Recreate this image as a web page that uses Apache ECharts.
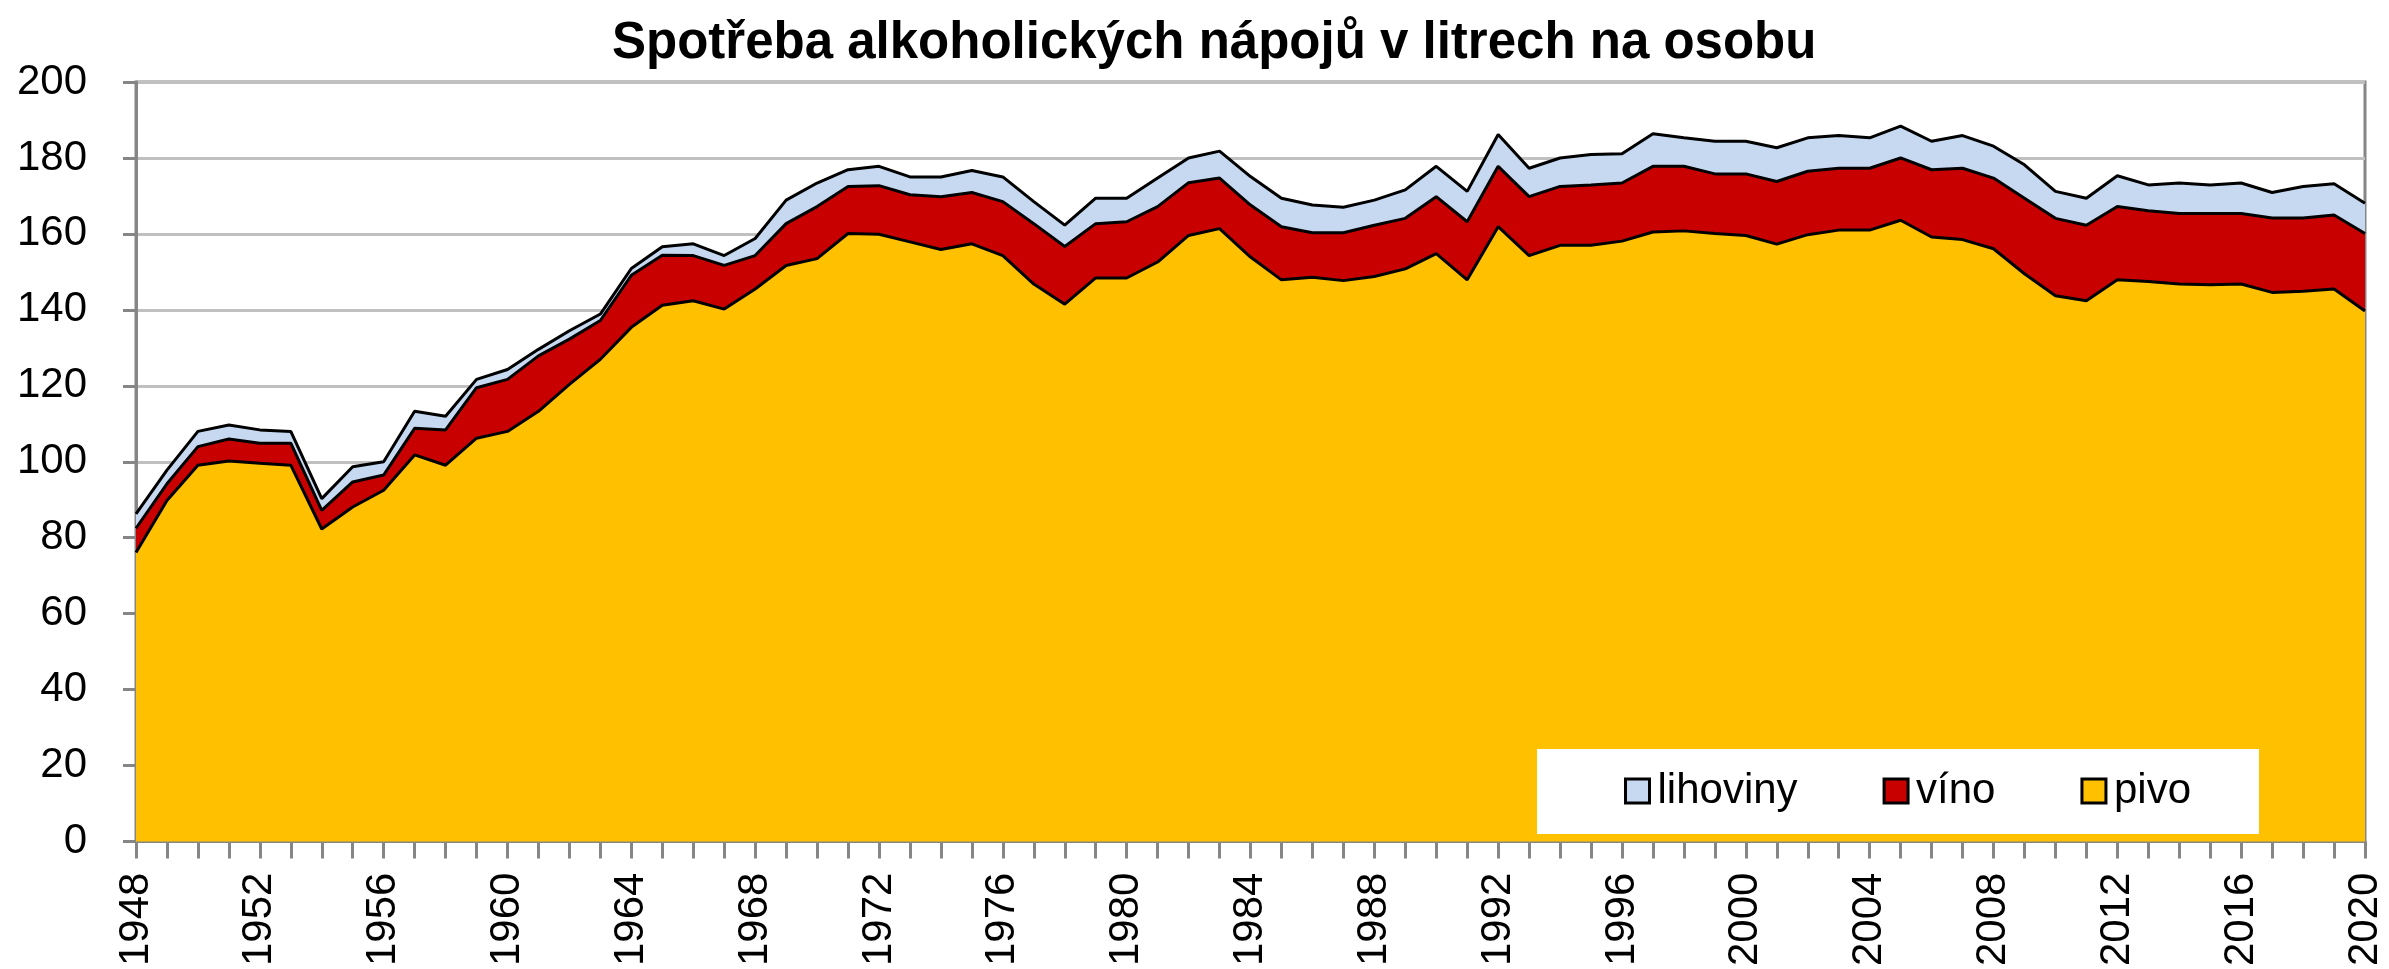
<!DOCTYPE html>
<html>
<head>
<meta charset="utf-8">
<script src="https://cdn.jsdelivr.net/npm/echarts@6/dist/echarts.min.js"></script>
<style>
  html, body { margin: 0; padding: 0; background: #fff; }
  #chart { width: 2389px; height: 969px; }
</style>
</head>
<body>
<div id="chart"></div>
<script>
// roky
const years = [
  '1948','1949','1950','1951','1952','1953','1954','1955','1956','1957',
  '1958','1959','1960','1961','1962','1963','1964','1965','1966','1967',
  '1968','1969','1970','1971','1972','1973','1974','1975','1976','1977',
  '1978','1979','1980','1981','1982','1983','1984','1985','1986','1987',
  '1988','1989','1990','1991','1992','1993','1994','1995','1996','1997',
  '1998','1999','2000','2001','2002','2003','2004','2005','2006','2007',
  '2008','2009','2010','2011','2012','2013','2014','2015','2016','2017',
  '2018','2019','2020'
]

// litry na osobu
const pivo = [
  76.1, 89.8, 99.1, 100.2, 99.6, 99.1, 82.3, 88.1, 92.5, 101.8,
  99.1, 106.2, 108.0, 113.3, 120.4, 127.0, 135.4, 141.2, 142.4, 140.2,
  145.5, 151.7, 153.5, 160.1, 159.9, 157.9, 155.9, 157.4, 154.3, 146.8,
  141.5, 148.4, 148.4, 152.6, 159.6, 161.4, 153.9, 147.9, 148.6, 147.7,
  148.8, 150.8, 154.8, 147.9, 161.9, 154.3, 157.0, 157.0, 158.1, 160.5,
  160.8, 160.1, 159.6, 157.3, 159.8, 161.0, 161.0, 163.6, 159.2, 158.5,
  156.1, 149.5, 143.7, 142.4, 147.9, 147.5, 146.8, 146.6, 146.8, 144.6,
  144.9, 145.5, 139.7
]
const vino = [
  6.4, 4.4, 4.9, 5.8, 5.3, 5.8, 4.9, 6.6, 4.0, 7.0,
  9.3, 13.3, 13.7, 14.6, 11.9, 10.2, 13.7, 13.2, 11.9, 11.5,
  8.8, 11.0, 13.7, 12.4, 12.8, 12.4, 13.9, 13.5, 14.2, 15.9,
  15.2, 14.3, 14.8, 14.6, 13.9, 13.3, 13.7, 14.0, 11.7, 12.6,
  13.5, 13.3, 15.0, 15.3, 15.9, 15.5, 15.5, 15.9, 15.3, 17.3,
  17.0, 15.7, 16.2, 16.5, 16.7, 16.3, 16.3, 16.4, 17.7, 18.8,
  18.6, 19.9, 20.4, 19.9, 19.3, 18.6, 18.6, 18.8, 18.6, 19.6,
  19.3, 19.5, 20.4
]
const lihoviny = [
  3.8, 3.6, 4.0, 3.7, 3.5, 3.1, 3.1, 4.0, 3.5, 4.5,
  3.6, 2.2, 2.6, 1.7, 2.2, 1.7, 1.8, 2.2, 3.1, 2.6,
  4.5, 6.2, 6.2, 4.4, 5.1, 4.7, 5.2, 5.8, 6.5, 5.8,
  5.6, 6.7, 6.2, 7.5, 6.5, 7.1, 7.5, 7.5, 7.3, 6.7,
  6.6, 7.5, 8.0, 8.0, 8.4, 7.5, 7.5, 8.0, 7.7, 8.6,
  7.5, 8.6, 8.6, 8.9, 8.8, 8.6, 8.0, 8.4, 7.5, 8.6,
  8.4, 8.8, 7.1, 7.1, 8.1, 6.8, 8.0, 7.5, 8.0, 6.7,
  8.3, 8.2, 8.0
]

const font = "'Liberation Sans', Arial, sans-serif"
const axisGray = '#868686'

const areaSeries = (name, data, color) => ({
  name: name,
  type: 'line',
  stack: 'total',
  data: data,
  showSymbol: false,
  symbol: 'none',
  color: color,
  lineStyle: { color: '#000', width: 3 },
  areaStyle: { color: color, opacity: 1 },
  emphasis: { disabled: true }
})

const chart = echarts.init(document.getElementById('chart'))
chart.setOption({
  animation: false,
  backgroundColor: '#fff',
  title: {
    text: 'Spotřeba alkoholických nápojů v litrech na osobu',
    left: 612,
    top: 18,
    padding: 0,
    textStyle: { fontFamily: font, fontSize: 51, fontWeight: 'bold', color: '#000' }
  },
  grid: {
    left: 136,
    right: 24,
    top: 82,
    bottom: 123,
    show: true,
    borderColor: axisGray,
    borderWidth: 3,
    containLabel: false
  },
  legend: {
    left: 1537,
    top: 749,
    padding: [21, 68, 22, 87],
    backgroundColor: '#fff',
    itemWidth: 24,
    itemHeight: 24,
    itemGap: 85,
    icon: 'rect',
    textStyle: { fontFamily: font, fontSize: 42, color: '#000', padding: [0, 0, 0, 3] },
    itemStyle: { borderColor: '#000', borderWidth: 3 },
    data: [
      { name: 'lihoviny', itemStyle: { color: '#C6D9F1' } },
      { name: 'víno', itemStyle: { color: '#C80000' } },
      { name: 'pivo', itemStyle: { color: '#FFC000' } }
    ]
  },
  xAxis: {
    type: 'category',
    data: years,
    boundaryGap: false,
    axisLine: { lineStyle: { color: axisGray, width: 3 } },
    axisTick: { show: true, interval: 0, length: 17, lineStyle: { color: axisGray, width: 3 } },
    axisLabel: {
      interval: 3,
      rotate: 90,
      margin: 31,
      fontFamily: font,
      fontSize: 42,
      color: '#000'
    },
    splitLine: { show: false }
  },
  yAxis: {
    type: 'value',
    min: 0,
    max: 200,
    interval: 20,
    axisLine: { show: true, lineStyle: { color: axisGray, width: 3 } },
    axisTick: { show: true, length: 13, lineStyle: { color: axisGray, width: 3 } },
    axisLabel: { margin: 49, fontFamily: font, fontSize: 42, color: '#000' },
    splitLine: { lineStyle: { color: '#C0C0C0', width: 3 } }
  },
  series: [
    areaSeries('pivo', pivo, '#FFC000'),
    areaSeries('víno', vino, '#C80000'),
    areaSeries('lihoviny', lihoviny, '#C6D9F1')
  ]
})
</script>
</body>
</html>
